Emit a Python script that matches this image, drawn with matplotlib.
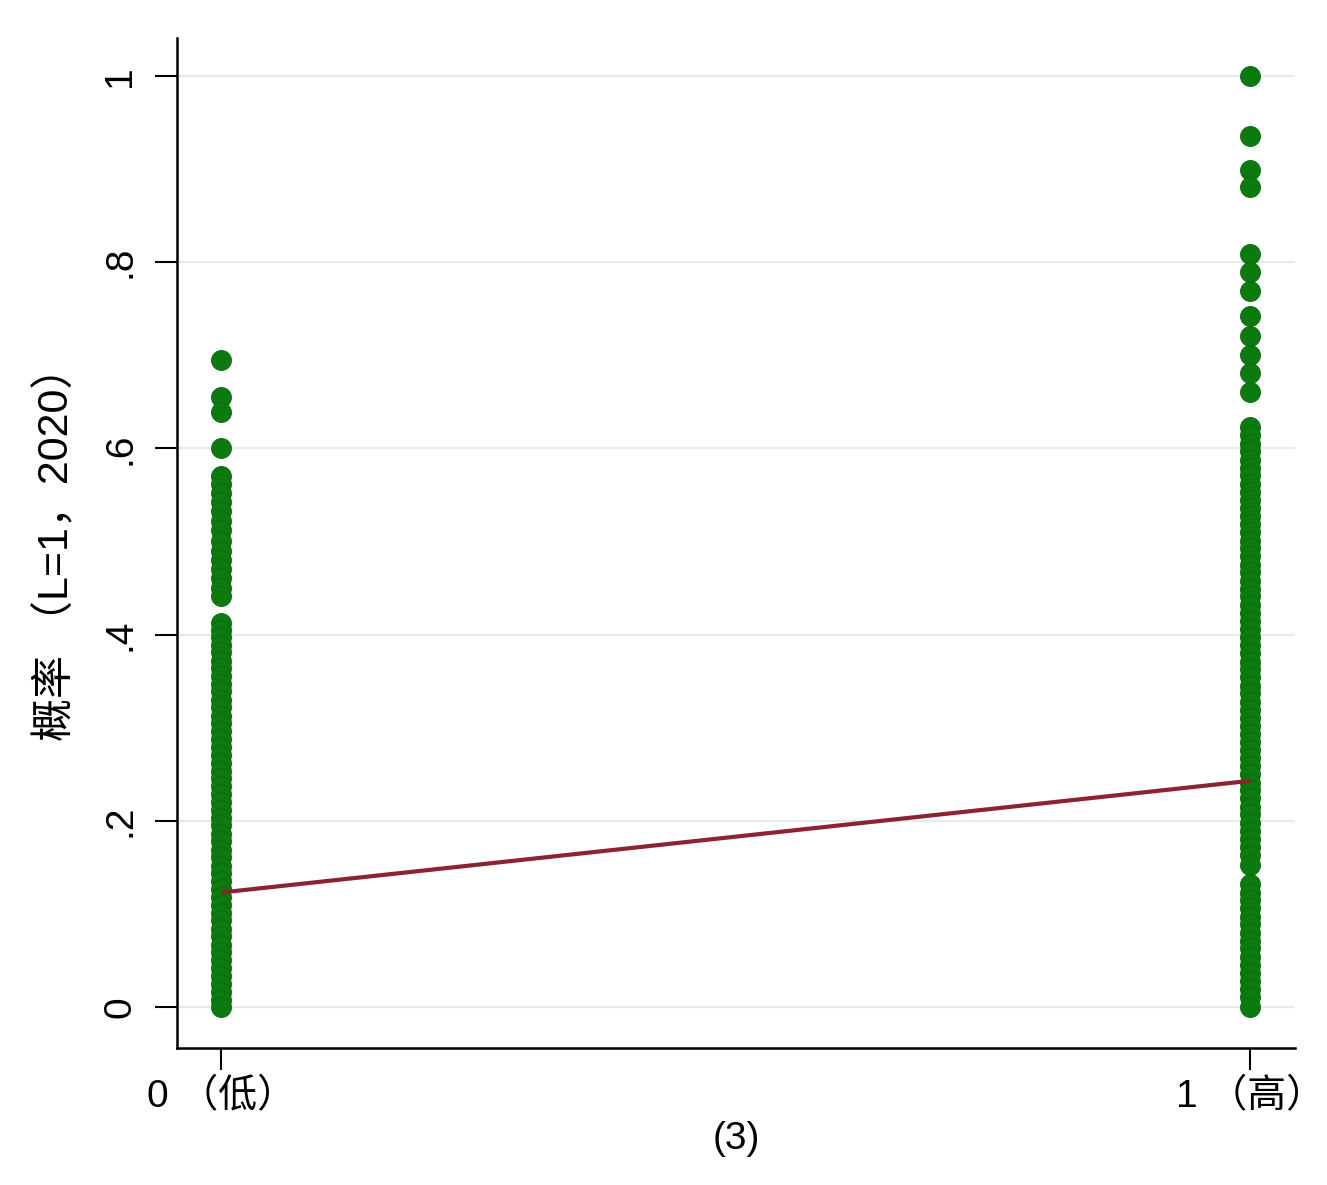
import matplotlib
matplotlib.use("Agg")
import matplotlib.pyplot as plt

# ---- data ----
x_categories = [0, 1]
x_ticklabels = ["0 （低）", "1 （高）"]
y_ticks = [0, 0.2, 0.4, 0.6, 0.8, 1.0]
y_ticklabels = ["0", ".2", ".4", ".6", ".8", "1"]

prob_low = [0.695, 0.655, 0.639, 0.601,
            0.570, 0.562, 0.552, 0.543, 0.533, 0.522, 0.512, 0.501, 0.490, 0.480,
            0.470, 0.461, 0.450, 0.441,
            0.412, 0.405, 0.397, 0.389, 0.381, 0.372, 0.364, 0.356, 0.347, 0.339,
            0.330, 0.322, 0.313, 0.305, 0.296, 0.288, 0.279, 0.271, 0.262, 0.254,
            0.246, 0.237, 0.229, 0.220, 0.212, 0.203, 0.195, 0.186, 0.178, 0.169,
            0.161, 0.152, 0.144, 0.135, 0.127, 0.118, 0.110, 0.101, 0.093, 0.084,
            0.076, 0.067, 0.059, 0.050, 0.042, 0.033, 0.025, 0.016, 0.008, 0.000]

prob_high = [1.000, 0.936, 0.899, 0.881, 0.809, 0.789, 0.769, 0.742, 0.721, 0.700,
             0.681, 0.661,
             0.623, 0.614, 0.605, 0.597, 0.588, 0.579, 0.571, 0.562, 0.553, 0.545,
             0.536, 0.527, 0.519, 0.510, 0.501, 0.493, 0.484, 0.475, 0.467, 0.458,
             0.449, 0.441, 0.432, 0.423, 0.415, 0.406, 0.397, 0.389, 0.380, 0.371,
             0.363, 0.354, 0.345, 0.337, 0.328, 0.319, 0.311, 0.302, 0.293, 0.285,
             0.276, 0.267, 0.259, 0.250, 0.241, 0.233, 0.224, 0.215, 0.207, 0.198,
             0.189, 0.181, 0.172, 0.163, 0.153, 0.132, 0.123, 0.115, 0.106, 0.097,
             0.089, 0.080, 0.071, 0.063, 0.054, 0.045, 0.037, 0.028, 0.019, 0.011,
             0.000]

fit_x = [0, 1]
fit_y = [0.123, 0.243]

y_label = "概率 （L=1，2020）"
x_label = "(3)"

# ---- plotting ----
plt.rcParams['font.family'] = ['Liberation Sans', 'Noto Sans CJK SC', 'DejaVu Sans']

fig = plt.figure(figsize=(13.27, 11.85), dpi=100)
ax = fig.add_axes([0.1334, 0.1156, 0.9759 - 0.1334, 0.9679 - 0.1156])

green = '#0d7a0f'
edge = '#0a6a0c'
ax.scatter([x_categories[0]] * len(prob_low), prob_low, s=207, color=green,
           edgecolors=edge, linewidths=0.6, zorder=3)
ax.scatter([x_categories[1]] * len(prob_high), prob_high, s=207, color=green,
           edgecolors=edge, linewidths=0.6, zorder=3)
ax.plot(fit_x, fit_y, color='#8c2332', lw=3.0, zorder=4, solid_capstyle='butt')

ax.set_xlim(-0.0428, 1.0437)
ax.set_ylim(-0.044, 1.0408)

ax.set_yticks(y_ticks)
ax.set_yticklabels(y_ticklabels, rotation=90, va='center', fontsize=28)
ax.set_xticks(x_categories)
ax.set_xticklabels(x_ticklabels, fontsize=28)

ax.grid(axis='y', color='#e6eaee', lw=1.6, zorder=0)
ax.set_axisbelow(True)

for side in ['top', 'right']:
    ax.spines[side].set_visible(False)
for side in ['left', 'bottom']:
    ax.spines[side].set_linewidth(1.8)
    ax.spines[side].set_color('black')

ax.tick_params(axis='y', length=16, width=1.5, pad=12)
ax.tick_params(axis='x', length=16, width=1.5, pad=6)

ax.set_ylabel(y_label, fontsize=31, labelpad=18)
ax.set_xlabel(x_label, fontsize=28, labelpad=4)

fig.savefig("out.png", dpi=100, facecolor='white')
